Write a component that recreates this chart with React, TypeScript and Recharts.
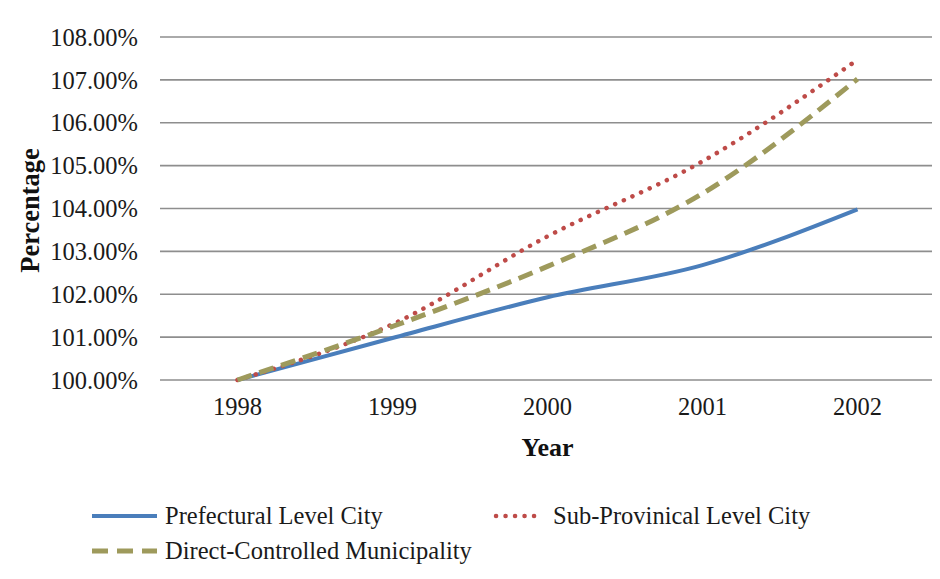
import React from "react";
import {
  CartesianGrid,
  Label,
  Legend,
  Line,
  LineChart,
  XAxis,
  YAxis,
} from "recharts";

const years = ["1998", "1999", "2000", "2001", "2002"];
const prefectural = [100, 100.98, 101.93, 102.68, 103.98];
const subProvincial = [100, 101.3, 103.35, 105.1, 107.47];
const directControlled = [100, 101.25, 102.65, 104.35, 107.02];
const yTicks = [100, 101, 102, 103, 104, 105, 106, 107, 108];

const data = years.map((year, i) => ({
  year,
  prefectural: prefectural[i],
  subProvincial: subProvincial[i],
  directControlled: directControlled[i],
}));

const FONT = '"Liberation Serif", "Times New Roman", serif';
const BLUE = "#4a7ebb";
const RED = "#be4b48";
const OLIVE = "#9e9a5c";

type SeriesStyle = {
  stroke: string;
  strokeWidth: number;
  strokeDasharray?: string;
  strokeLinecap?: "round" | "butt";
};

const styles: Record<string, SeriesStyle> = {
  prefectural: { stroke: BLUE, strokeWidth: 4 },
  subProvincial: {
    stroke: RED,
    strokeWidth: 4.5,
    strokeDasharray: "0.1 9.4",
    strokeLinecap: "round",
  },
  directControlled: {
    stroke: OLIVE,
    strokeWidth: 5,
    strokeDasharray: "15 8",
  },
};

const LegendItem = ({
  left,
  top,
  symbolWidth,
  gap,
  style,
  text,
}: {
  left: number;
  top: number;
  symbolWidth: number;
  gap: number;
  style: SeriesStyle;
  text: string;
}) => (
  <div
    style={{
      position: "absolute",
      left,
      top,
      height: 35,
      display: "flex",
      alignItems: "center",
      whiteSpace: "nowrap",
    }}
  >
    <svg width={symbolWidth} height={10} style={{ marginRight: gap }}>
      <line
        x1={style.strokeLinecap === "round" ? 3 : 0}
        y1={5}
        x2={symbolWidth}
        y2={5}
        stroke={style.stroke}
        strokeWidth={style.strokeWidth}
        strokeDasharray={style.strokeDasharray}
        strokeLinecap={style.strokeLinecap ?? "butt"}
      />
    </svg>
    <span style={{ fontFamily: FONT, fontSize: 24.5, color: "#1a1a1a" }}>
      {text}
    </span>
  </div>
);

const renderLegend = () => (
  <div style={{ position: "relative", width: 932, height: 80 }}>
    <LegendItem
      left={84}
      top={0}
      symbolWidth={65}
      gap={8}
      style={styles.prefectural}
      text="Prefectural Level City"
    />
    <LegendItem
      left={485}
      top={0}
      symbolWidth={50}
      gap={10}
      style={styles.subProvincial}
      text="Sub-Provinical Level City"
    />
    <LegendItem
      left={84}
      top={35}
      symbolWidth={65}
      gap={8}
      style={{ ...styles.directControlled, strokeDasharray: "16 9" }}
      text="Direct-Controlled Municipality"
    />
  </div>
);

export default function App() {
  return (
    <div
      style={{
        position: "relative",
        width: 932,
        height: 571,
        background: "#fff",
      }}
    >
      <LineChart
        width={932}
        height={571}
        data={data}
        margin={{ top: 29, right: 5, left: 0, bottom: 109 }}
      >
        <CartesianGrid
          vertical={false}
          stroke="#8e8e8e"
          strokeWidth={1.6}
        />
        <XAxis
          dataKey="year"
          axisLine={false}
          tickLine={false}
          tickSize={0}
          tickMargin={18}
          height={90}
          padding={{ left: 77.5, right: 77.5 }}
          tick={{ fontFamily: FONT, fontSize: 24.5, fill: "#1a1a1a" }}
        >
          <Label
            content={(props: any) => {
              const vb = props.viewBox || {};
              return (
                <text
                  x={vb.x + vb.width / 2}
                  y={vb.y + 76}
                  textAnchor="middle"
                  fontFamily={FONT}
                  fontSize={26}
                  fontWeight="bold"
                  fill="#111"
                >
                  Year
                </text>
              );
            }}
          />
        </XAxis>
        <YAxis
          width={152}
          domain={[100, 108]}
          ticks={yTicks}
          interval={0}
          axisLine={false}
          tickLine={false}
          tickSize={0}
          tickMargin={22}
          tickFormatter={(v: number) => `${v.toFixed(2)}%`}
          tick={{ fontFamily: FONT, fontSize: 24.5, fill: "#1a1a1a" }}
        >
          <Label
            content={(props: any) => {
              const vb = props.viewBox || {};
              const cx = vb.x + 22;
              const cy = vb.y + vb.height / 2 + 2;
              return (
                <text
                  x={cx}
                  y={cy}
                  transform={`rotate(-90 ${cx} ${cy})`}
                  textAnchor="middle"
                  dominantBaseline="central"
                  fontFamily={FONT}
                  fontSize={26.5}
                  fontWeight="bold"
                  fill="#111"
                >
                  Percentage
                </text>
              );
            }}
          />
        </YAxis>
        <Legend
          layout="horizontal"
          verticalAlign="middle"
          align="center"
          content={renderLegend}
          wrapperStyle={{ top: 490, left: 0, width: 932, height: 80 }}
        />
        <Line
          type="monotone"
          dataKey="prefectural"
          name="Prefectural Level City"
          dot={false}
          activeDot={false}
          isAnimationActive={false}
          {...styles.prefectural}
        />
        <Line
          type="monotone"
          dataKey="subProvincial"
          name="Sub-Provinical Level City"
          dot={false}
          activeDot={false}
          isAnimationActive={false}
          {...styles.subProvincial}
        />
        <Line
          type="monotone"
          dataKey="directControlled"
          name="Direct-Controlled Municipality"
          dot={false}
          activeDot={false}
          isAnimationActive={false}
          {...styles.directControlled}
        />
      </LineChart>
    </div>
  );
}
